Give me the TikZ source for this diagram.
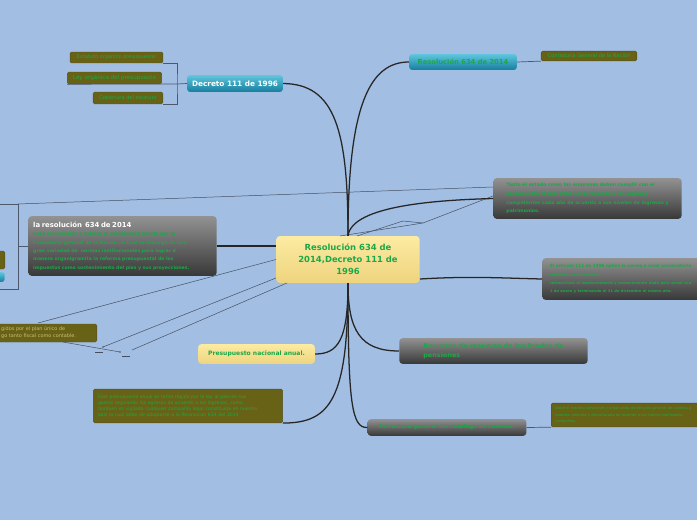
\documentclass[tikz,border=0pt]{standalone}
\usepackage{fontspec}
\setmainfont{DejaVu Sans}
\usepackage{tikz}
\usetikzlibrary{positioning}
\definecolor{mapblue}{RGB}{162,190,226}
\definecolor{mapgreen}{RGB}{28,168,72}
\definecolor{olivefill}{RGB}{104,98,22}
\definecolor{oliveedge}{RGB}{84,80,36}
\definecolor{tantext}{RGB}{205,190,120}
\definecolor{graytop}{RGB}{146,146,146}
\definecolor{graybot}{RGB}{56,56,56}
\definecolor{tealtop}{RGB}{95,198,222}
\definecolor{tealbot}{RGB}{22,126,158}
\definecolor{yellowtop}{RGB}{252,235,162}
\definecolor{yellowbot}{RGB}{238,212,126}
\definecolor{linkgray}{RGB}{78,88,108}
\tikzset{
  graybox/.style={rounded corners=2.5pt, top color=graytop, bottom color=graybot, text=mapgreen, align=left, inner xsep=5pt, inner ysep=1pt},
  tealbox/.style={rounded corners=2pt, top color=tealtop, bottom color=tealbot, inner sep=1pt},
  yellowbox/.style={rounded corners=2.5pt, top color=yellowtop, bottom color=yellowbot, text=mapgreen, align=center, inner sep=1pt},
  olivebox/.style={rounded corners=1pt, fill=olivefill, draw=oliveedge, line width=0.3pt, text=mapgreen, align=left, inner xsep=3pt, inner ysep=0.5pt},
  branch/.style={draw=black!85, line width=0.9pt},
  leg/.style={draw=linkgray, line width=0.5pt},
  rel/.style={draw=linkgray!90!black, line width=0.35pt}
}
\begin{document}
\begin{tikzpicture}[x=0.025cm, y=-0.025cm]
\useasboundingbox (0,0) rectangle (697,520);
\fill[mapblue] (0,0) rectangle (697,520);

\node[yellowbox, minimum width=102pt, minimum height=33.3pt, font=\fontsize{6}{8.5}\selectfont\bfseries] (centre) at (348,259.5) {Resolución 634 de\\2014,Decreto 111 de\\1996};

\node[tealbox, text=white, minimum width=68pt, minimum height=12pt, font=\fontsize{5.2}{6}\selectfont\bfseries] (decreto) at (235,83.5) {Decreto 111 de 1996};
\node[olivebox, minimum width=66pt, minimum height=7.8pt, font=\fontsize{3.6}{4}\selectfont] (estatuto) at (116.5,57.5) {Estatuto orgánico presupuestal};
\node[olivebox, minimum width=67pt, minimum height=8.5pt, font=\fontsize{4}{4.5}\selectfont] (leyorg) at (114.5,78) {Ley orgánica del presupuesto};
\node[olivebox, minimum width=49.6pt, minimum height=8.5pt, font=\fontsize{3.6}{4}\selectfont] (cobertura) at (128,98) {Cobertura del estatuto};

\node[tealbox, text=mapgreen, minimum width=76.5pt, minimum height=11.3pt, font=\fontsize{4.8}{6}\selectfont\bfseries] (resol) at (463,62) {Resolución 634 de 2014};
\node[olivebox, minimum width=68pt, minimum height=7pt, font=\fontsize{3.6}{4}\selectfont] (contaduria) at (589,56) {Contaduría General de la Nación};

\node[graybox, minimum width=134pt, minimum height=29pt, font=\fontsize{3.3}{6.2}\selectfont\bfseries] (tanto) at (587.5,198.5) {Tanto el estado como las empresas deben cumplir con el\\presupuesto el cual debe ser informado a los órganos\\competentes cada año de acuerdo a sus niveles de ingresos y\\patrimonios.};

\node[graybox, anchor=west, text width=160pt, inner xsep=5.5pt, minimum height=29.8pt, font=\fontsize{3}{6}\selectfont\bfseries] (art) at (542,279) {El artículo 111 de 1996 aplica la norma a nivel universitario\\nacional con normas\\{\fontsize{2.6}{6}\selectfont retroactivas al mantenimiento y sostenimiento dado para anual con}\\{\fontsize{2.6}{6}\selectfont 1 de enero y terminando el 31 de diciembre el mismo año.}};

\node[graybox, minimum width=134pt, minimum height=18.4pt, font=\fontsize{4.6}{6}\selectfont\bfseries] (recursos) at (493.5,351) {Recursos de reservas de los fondos de\\pensiones};

\node[graybox, minimum width=113pt, minimum height=12pt, font=\fontsize{3.9}{5}\selectfont\bfseries] (estructura) at (447,427.5) {Estructura general del catalogo de cuentas.};
\node[olivebox, anchor=west, text width=155pt, minimum height=17pt, font=\fontsize{2.6}{4.6}\selectfont] (debe) at (551,415) {Debe el manera coherente y organizada de del plan general de cuentas p\\manera concreta y estructurada de acuerdo a los índices expresados\\compañías.};

\node[yellowbox, minimum width=83pt, minimum height=14.2pt, font=\fontsize{4.3}{5}\selectfont\bfseries] (pres) at (256.5,354) {Presupuesto nacional anual.};
\node[olivebox, text width=128pt, inner xsep=3.3pt, minimum height=24pt, font=\fontsize{3.3}{4.4}\selectfont] (este) at (188,406) {Este presupuesto anual es tanto regido por la ley al país en sus\\gastos regulando los egresos de acuerdo a los ingresos, como\\tambien es vigilado cualquier compañía legal constituida en nuestro\\pais la cual debe de adaptarse a la Resolucion 634 del 2014};

\node[graybox, text width=127pt, inner xsep=3.5pt, minimum height=42.5pt, font=\fontsize{3.3}{6}\selectfont\bfseries] (lares) at (122.5,246) {{\color{white}\fontsize{4.9}{6}\selectfont la resolución\ \ 634 de 2014}\\hace consolación y solidez al reglamento regido por la\\Contaduria general de la Nacion ,la cual se encarga de una\\gran variedad de\ \ normas institucionales para lograr d\\manera organigramita la reforma presupuestal de los\\impuestos como sostenimiento del pias y sus proyecciones.};
\node[olivebox, anchor=east, minimum width=30pt, minimum height=12.8pt] (lefttab) at (5,260) {};
\node[tealbox, anchor=east, minimum width=30pt, minimum height=7pt] (lefttabb) at (5,277) {};

\node[olivebox, anchor=east, text width=66pt, inner xsep=2pt, minimum height=12.8pt, text=tantext, font=\fontsize{3.5}{5}\selectfont] (plan) at (97,333) {gidos por el plan único de\\go tanto fiscal como contable.};

\coordinate (decbrk) at (177,84);
\coordinate (lbrk) at (18,246);
\coordinate (lbrkT) at (18,204);
\coordinate (lbrkB) at (18,289);
\coordinate (loffT) at (-5,204);
\coordinate (loffB) at (-5,289);
\coordinate (relstartA) at (38,323);
\coordinate (relstartB) at (103,347);
\coordinate (relstartC) at (132,350);
\coordinate (relendB) at (276,278);
\coordinate (relendC) at (287,283);
\coordinate (planout) at (63,342);
\coordinate (relendP) at (120,352);
\coordinate (markA1) at (95,352);
\coordinate (markA2) at (103,352);
\coordinate (markB1) at (122,356);
\coordinate (markB2) at (130,356);
\coordinate (knot) at (423,223);
\coordinate (knotin) at (403,221);
\coordinate (ctopA) at (340,236);
\coordinate (ctopB) at (357,236);
\coordinate (tantoinA) at (493,187);
\coordinate (tantoinB) at (493,196);

\draw[leg] (decreto.west) -- (decbrk);
\draw[leg] (estatuto.south east) -| (decbrk) |- (cobertura.south east);
\draw[leg] (leyorg.south west) -- (decbrk);
\draw[leg] (resol.east) -- (contaduria.south west);
\draw[leg] (estructura.east) -- (debe.south west);
\draw[leg] (lares.west) -- (lbrk);
\draw[leg] (loffT) -- (lbrkT) -- (lbrkB) -- (loffB);

\draw[rel] (lbrkT) -- (tantoinA);
\draw[rel] (relstartA) -- (centre.west);
\draw[rel] (relstartB) -- (relendB);
\draw[rel] (relstartC) -- (relendC);
\draw[rel] (planout) -- (relendP);
\draw[rel] (markA1) -- (markA2);
\draw[rel] (markB1) -- (markB2);
\fill[linkgray] (relstartB) circle (0.6pt) (relendP) circle (0.6pt);
\draw[rel] (ctopA) -- (knot);
\draw[rel] (ctopB) -- (knotin) -- (knot);
\draw[rel] (knot) -- (tantoinB);

\draw[branch] (centre.north) .. controls (348,130) and (335,84) .. (decreto.east);
\draw[branch] (centre.north) .. controls (348,105) and (370,62) .. (resol.west);
\draw[branch] (centre.north) .. controls (352,205) and (440,200) .. (tanto.west);
\draw[branch] (centre.east |- art.west) .. controls (470,276) and (500,278) .. (art.west);
\draw[branch] (centre.south) .. controls (348,330) and (360,351) .. (recursos.west);
\draw[branch] (centre.south) .. controls (348,405) and (352,428) .. (estructura.west);
\draw[branch] (centre.south) .. controls (348,340) and (338,354) .. (pres.east);
\draw[branch] (centre.south) .. controls (348,400) and (330,423) .. (este.south east);
\draw[branch] (lares.east) -- (centre.west |- lares.east);
\end{tikzpicture}
\end{document}
